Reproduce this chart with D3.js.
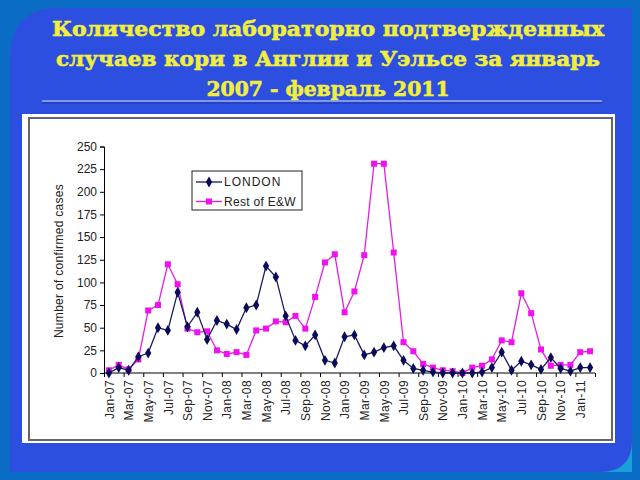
<!DOCTYPE html>
<html><head><meta charset="utf-8">
<script src="https://cdn.jsdelivr.net/npm/d3@7"></script>
<style>html,body{margin:0;padding:0;background:#0a6cc4;}svg{display:block;}</style>
</head><body><svg id="c" width="640" height="480"></svg>
<script>
const months = ["Jan-07","Feb-07","Mar-07","Apr-07","May-07","Jun-07","Jul-07","Aug-07","Sep-07","Oct-07","Nov-07","Dec-07",
"Jan-08","Feb-08","Mar-08","Apr-08","May-08","Jun-08","Jul-08","Aug-08","Sep-08","Oct-08","Nov-08","Dec-08",
"Jan-09","Feb-09","Mar-09","Apr-09","May-09","Jun-09","Jul-09","Aug-09","Sep-09","Oct-09","Nov-09","Dec-09",
"Jan-10","Feb-10","Mar-10","Apr-10","May-10","Jun-10","Jul-10","Aug-10","Sep-10","Oct-10","Nov-10","Dec-10",
"Jan-11","Feb-11"];
const london = [0,6,3,18,22,50,47,89,51,67,37,58,
54,48,72,75,118,106,63,36,30,42,14,11,
40,42,20,23,28,30,14,5,3,1,0,0,
0,0,1,6,23,3,13,9,4,17,5,2,
6,6];
const restEW = [3,9,4,15,69,75,120,98,49,45,46,25,
21,23,20,47,49,57,56,63,49,84,122,131,
67,90,130,231,231,133,34,24,10,6,3,2,
0,6,8,15,36,34,88,66,26,8,9,9,
23,24];
const yTicks = [0,25,50,75,100,125,150,175,200,225,250];
const titleLines = ["Количество лабораторно подтвержденных","случаев кори в Англии и Уэльсе за январь","2007 - февраль 2011"];
const seriesNames = ["LONDON","Rest of E&W"];

const svg = d3.select("#c");
// background
svg.append("rect").attr("width",640).attr("height",480).attr("fill","#0a6cc4");
svg.append("path").attr("d","M10,58 Q10,8 60,8 L632,8 L632,472 L10,472 Z").attr("fill","#2c4fe0");
svg.append("path").attr("d","M632,440 Q632,472 600,472 L632,472 Z").attr("fill","#1aa0d8");

// title
const tw = [552,544,243];
titleLines.forEach((t,i)=>{
  svg.append("text").attr("x",328).attr("y",36+i*30).attr("text-anchor","middle")
    .attr("font-family","DejaVu Serif").attr("font-weight","bold").attr("font-size",20)
    .attr("fill","#f2ee3c").attr("stroke","#f2ee3c").attr("stroke-width",0.6)
    .attr("textLength",tw[i]).attr("lengthAdjust","spacingAndGlyphs").text(t);
});
svg.append("line").attr("x1",42).attr("x2",602).attr("y1",101).attr("y2",101).attr("stroke","#9fb0e8").attr("stroke-width",1.5);
svg.append("line").attr("x1",42).attr("x2",602).attr("y1",103).attr("y2",103).attr("stroke","#1c36a8").attr("stroke-width",1);

// chart box
svg.append("rect").attr("x",22).attr("y",114).attr("width",593).attr("height",329).attr("fill","#fff");
svg.append("rect").attr("x",29).attr("y",118).attr("width",583).attr("height",322).attr("fill","none").attr("stroke","#666").attr("stroke-width",2);

const x = d3.scaleLinear().domain([-0.5, months.length-0.5]).range([104,595]);
const y = d3.scaleLinear().domain([0,250]).range([373,146.5]);

const font = "Liberation Sans, Arial, sans-serif";
// y axis
const ya = svg.append("g").attr("transform","translate(104,0)")
  .call(d3.axisLeft(y).tickValues(yTicks).tickSize(4).tickPadding(3));
ya.select(".domain").attr("stroke","#000");
ya.selectAll("line").attr("stroke","#000");
ya.selectAll("text").attr("font-family",font).attr("font-size",12).attr("fill","#222");

// x axis tick marks
const xa = svg.append("g").attr("transform","translate(0,373)")
  .call(d3.axisBottom(x).tickValues(d3.range(-0.5, months.length, 2)).tickSize(4).tickFormat(""));
xa.select(".domain").attr("stroke","#000").attr("d","M104,0H595");
xa.selectAll("line").attr("stroke","#000");
// x labels
const labIdx = d3.range(0, months.length, 2);
const xl = svg.append("g").attr("transform","translate(0,373)")
  .call(d3.axisBottom(x).tickValues(labIdx).tickSize(0).tickFormat(i=>months[i]));
xl.select(".domain").remove();
xl.selectAll("text").attr("font-family",font).attr("font-size",12).attr("fill","#222").attr("letter-spacing",0.4)
  .attr("text-anchor","end").attr("transform","rotate(-90)").attr("x",-7).attr("y",0).attr("dy","0.35em");

// y label
svg.append("text").attr("transform","translate(63,261) rotate(-90)").attr("text-anchor","middle")
  .attr("font-family",font).attr("font-size",12).attr("fill","#222").attr("letter-spacing",0.3).text("Number of confirmed cases");

const line = d3.line().x((d,i)=>x(i)).y(d=>y(d));
// rest of E&W
svg.append("path").datum(restEW).attr("d",line).attr("fill","none").attr("stroke","#e020e0").attr("stroke-width",1.3);
svg.append("g").selectAll("rect").data(restEW).join("rect")
  .attr("x",(d,i)=>x(i)-3).attr("y",d=>y(d)-3).attr("width",6).attr("height",6).attr("fill","#f010f0");
// london
svg.append("path").datum(london).attr("d",line).attr("fill","none").attr("stroke","#1a1a60").attr("stroke-width",1.3);
svg.append("g").selectAll("path").data(london).join("path")
  .attr("d",d3.symbol().type(d3.symbolDiamond).size(34))
  .attr("transform",(d,i)=>`translate(${x(i)},${y(d)})`).attr("fill","#0a0a5a");

// legend
const lg = svg.append("g");
lg.append("rect").attr("x",192).attr("y",171).attr("width",110).attr("height",39).attr("fill","#fff").attr("stroke","#222").attr("stroke-width",1);
const ly = [182,201.5];
lg.append("line").attr("x1",196).attr("x2",222).attr("y1",ly[0]).attr("y2",ly[0]).attr("stroke","#1a1a60").attr("stroke-width",1.3);
lg.append("path").attr("d",d3.symbol().type(d3.symbolDiamond).size(34)).attr("transform",`translate(209,${ly[0]})`).attr("fill","#0a0a5a");
lg.append("line").attr("x1",196).attr("x2",222).attr("y1",ly[1]).attr("y2",ly[1]).attr("stroke","#e020e0").attr("stroke-width",1.3);
lg.append("rect").attr("x",206).attr("y",ly[1]-3).attr("width",6).attr("height",6).attr("fill","#f010f0");
seriesNames.forEach((n,i)=>{
  lg.append("text").attr("x",224).attr("y",ly[i]).attr("dy","0.36em").attr("font-family",font).attr("font-size",12)
    .attr("fill","#222").attr("letter-spacing",i===0?1:0.3).text(n);
});
</script></body></html>
